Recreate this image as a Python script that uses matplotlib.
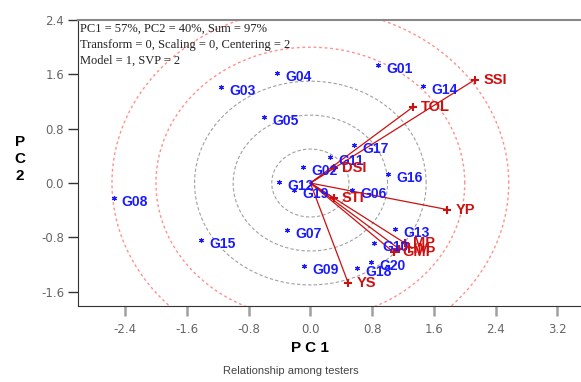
import matplotlib
matplotlib.use("Agg")
import matplotlib.pyplot as plt
import numpy as np

# genotype scores (PC1, PC2)
GENOTYPES = ["G01", "G02", "G03", "G04", "G05", "G06", "G07", "G08", "G09", "G10",
             "G11", "G12", "G13", "G14", "G15", "G16", "G17", "G18", "G19", "G20"]
G_PC1 = [0.88, -0.10, -1.16, -0.43, -0.60, 0.54, -0.30, -2.55, -0.08, 0.82,
         0.26, -0.41, 1.10, 1.46, -1.42, 1.00, 0.56, 0.61, -0.21, 0.78]
G_PC2 = [1.74, 0.24, 1.41, 1.62, 0.97, -0.10, -0.69, -0.22, -1.22, -0.88,
         0.38, 0.02, -0.67, 1.43, -0.84, 0.14, 0.56, -1.25, -0.10, -1.16]

# tester (trait) scores
TRAITS = ["SSI", "TOL", "DSI", "STI", "YP", "GMP", "HM", "MP", "YS"]
T_PC1 = [2.13, 1.33, 0.30, 0.30, 1.77, 1.08, 1.15, 1.22, 0.49]
T_PC2 = [1.52, 1.12, 0.22, -0.22, -0.39, -1.02, -0.97, -0.88, -1.47]

GRAY_RADII = [0.5, 1.0, 1.5]
RED_RADII = [2.0, 2.57]

X_TICKS = [-2.4, -1.6, -0.8, 0.0, 0.8, 1.6, 2.4, 3.2]
Y_TICKS = [-1.6, -0.8, 0.0, 0.8, 1.6, 2.4]

INFO = ["PC1 = 57%, PC2 = 40%, Sum = 97%",
        "Transform = 0, Scaling = 0, Centering = 2",
        "Model = 1, SVP = 2"]

BLUE = "#1a1aff"
RED = "#cc1111"

fig = plt.figure(figsize=(5.81, 3.82), dpi=100)
ax = fig.add_axes([78 / 581, 1 - 306 / 382, 1 - 78 / 581, (306 - 20) / 382])
ax.set_xlim(-3.01, 3.506)
ax.set_ylim(-1.81, 2.40)

theta = np.linspace(0, 2 * np.pi, 400)
for r in GRAY_RADII:
    ax.plot(r * np.cos(theta), r * np.sin(theta), color="#a0a0a0", lw=0.8,
            ls=(0, (3, 2)), zorder=1)
for r in RED_RADII:
    ax.plot(r * np.cos(theta), r * np.sin(theta), color="#ff9090", lw=1.0,
            ls=(0, (2, 2)), zorder=1)

# vectors from origin to testers
for x, y in zip(T_PC1, T_PC2):
    ax.plot([0, x], [0, y], color=RED, lw=0.9, zorder=2)

ax.plot(G_PC1, G_PC2, ls="none", marker=(6, 2, 0), ms=3.5, color=BLUE, mew=0.8, zorder=3)
for name, x, y in zip(GENOTYPES, G_PC1, G_PC2):
    ax.annotate(name, (x, y), xytext=(6, -3), textcoords="offset points",
                color=BLUE, fontsize=10, fontweight="bold", family="Liberation Sans",
                va="center", ha="left", zorder=4)

ax.plot(T_PC1, T_PC2, ls="none", marker="+", ms=6, mew=1.5, color=RED, zorder=3)
for name, x, y in zip(TRAITS, T_PC1, T_PC2):
    ax.annotate(name, (x, y), xytext=(6, 0), textcoords="offset points",
                color=RED, fontsize=10.5, fontweight="bold", family="Liberation Sans",
                va="center", ha="left", zorder=4)

for i, line in enumerate(INFO):
    ax.text(0.004, 0.99 - i * 0.056, line, transform=ax.transAxes, ha="left", va="top",
            fontsize=9, family="Liberation Serif", color="#222222")

ax.set_xticks(X_TICKS)
ax.set_xticklabels([f"{v:.1f}" for v in X_TICKS])
ax.set_yticks(Y_TICKS)
ax.set_yticklabels([f"{v:.1f}" for v in Y_TICKS])
ax.tick_params(axis="x", direction="out", length=7, width=1.8, color="#a0a0a0",
               labelsize=8.5, labelcolor="#666666", pad=5)
ax.tick_params(axis="y", direction="out", length=7, width=1.0, color="#333333",
               labelsize=8.5, labelcolor="#666666", pad=3)
ax.spines["right"].set_visible(False)
ax.spines["top"].set_color("#888888")
ax.spines["top"].set_linewidth(1.5)
ax.spines["left"].set_color("#333333")
ax.spines["bottom"].set_color("#333333")

fig.text(310 / 581, 1 - 348 / 382, "P C 1", ha="center", va="center",
         fontsize=11, fontweight="bold", family="Liberation Sans")
fig.text(20 / 581, 1 - 159 / 382, "P\nC\n2", ha="center", va="center",
         fontsize=11, fontweight="bold", family="Liberation Sans", linespacing=1.3)
fig.text(291 / 581, 1 - 371 / 382, "Relationship among testers", ha="center",
         va="center", fontsize=8, color="#444444", family="Liberation Sans")

fig.savefig("out.png", dpi=100)
